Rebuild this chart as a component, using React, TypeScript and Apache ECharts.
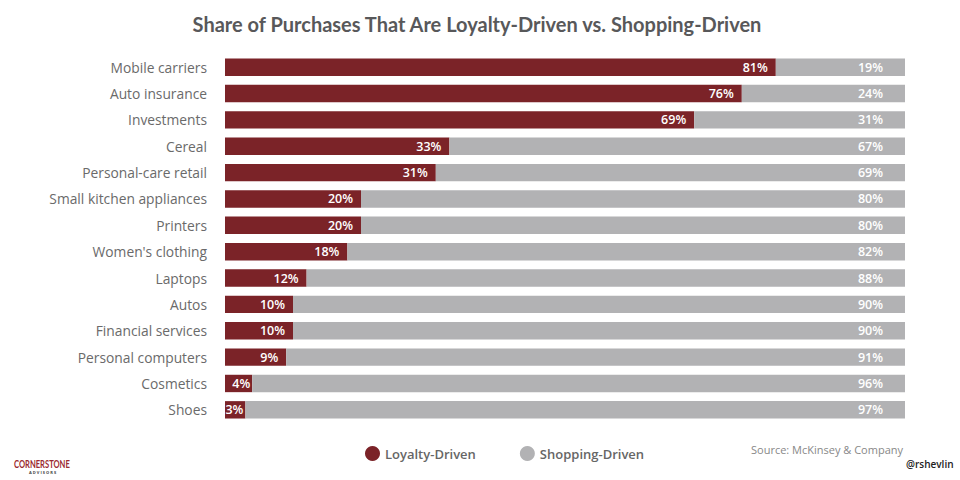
import React, { useEffect, useRef } from "react";
import * as echarts from "echarts";

const categories = [
  "Mobile carriers",
  "Auto insurance",
  "Investments",
  "Cereal",
  "Personal-care retail",
  "Small kitchen appliances",
  "Printers",
  "Women's clothing",
  "Laptops",
  "Autos",
  "Financial services",
  "Personal computers",
  "Cosmetics",
  "Shoes",
];
const loyaltyDriven = [81, 76, 69, 33, 31, 20, 20, 18, 12, 10, 10, 9, 4, 3];
const shoppingDriven = [19, 24, 31, 67, 69, 80, 80, 82, 88, 90, 90, 91, 96, 97];

const RED = "#7b2328";
const GRAY = "#b2b2b4";
const FONT = "'Open Sans', Lato, sans-serif";

export default function App() {
  const ref = useRef<HTMLDivElement>(null);
  useEffect(() => {
    if (!ref.current) return;
    const chart = echarts.init(ref.current, null, { renderer: "svg" });
    chart.setOption({
      animation: false,
      backgroundColor: "#ffffff",
      textStyle: { fontFamily: FONT },
      title: {
        text: "Share of Purchases That Are Loyalty-Driven vs. Shopping-Driven",
        left: 472,
        top: 9,
        textAlign: "center",
        textStyle: { fontFamily: "Lato, sans-serif", fontSize: 20, fontWeight: "bold", color: "#58585a" },
      },
      legend: {
        left: 360,
        top: 441,
        icon: "circle",
        itemWidth: 15,
        itemHeight: 15,
        itemGap: 44,
        textStyle: { fontFamily: FONT, fontSize: 13, color: "#666666", fontWeight: 600 },
        data: ["Loyalty-Driven", "Shopping-Driven"],
      },
      grid: { left: 225, right: 55, top: 54, bottom: 57, containLabel: false },
      xAxis: {
        type: "value",
        min: 0,
        max: 100,
        show: false,
      },
      yAxis: {
        type: "category",
        data: categories,
        inverse: true,
        axisLine: { show: false },
        axisTick: { show: false },
        splitLine: { show: false },
        axisLabel: { margin: 18, fontSize: 13.8, color: "#6a6a6a", fontFamily: FONT },
      },
      series: [
        {
          name: "Loyalty-Driven",
          type: "bar",
          stack: "total",
          data: loyaltyDriven.map((v) => ({
            value: v,
            label: v < 6 ? { distance: 2 } : undefined,
          })),
          barCategoryGap: "34%",
          itemStyle: { color: RED },
          label: {
            show: true,
            position: "insideRight",
            distance: 8,
            formatter: "{c}%",
            color: "#ffffff",
            fontSize: 12.5,
            fontWeight: 600,
            fontFamily: FONT,
          },
        },
        {
          name: "Shopping-Driven",
          type: "bar",
          stack: "total",
          data: shoppingDriven,
          itemStyle: { color: GRAY },
          label: {
            show: true,
            position: "insideRight",
            distance: 22,
            formatter: "{c}%",
            color: "#ffffff",
            fontSize: 12.5,
            fontWeight: 600,
            fontFamily: FONT,
          },
        },
      ],
      graphic: [
        {
          type: "text",
          right: 57,
          top: 444,
          style: { text: "Source: McKinsey & Company", fontSize: 11, fill: "#888888", fontFamily: FONT },
        },
        {
          type: "text",
          left: 906,
          top: 459,
          style: { text: "@rshevlin", fontSize: 10, fill: "#222222", fontFamily: FONT, fontWeight: 600 },
        },
        {
          type: "text",
          x: 14,
          y: 458,
          scaleX: 0.69,
          style: {
            text: "CORNERSTONE",
            fontSize: 11,
            fontWeight: "bold",
            fill: "#9b2a30",
            fontFamily: "Lato, sans-serif",
          },
        },
        {
          type: "text",
          x: 29,
          y: 470,
          style: { text: "A D V I S O R S", fontSize: 4, fill: "#444444", fontFamily: FONT, fontWeight: "bold" },
        },
      ],
    });
    return () => chart.dispose();
  }, []);
  return <div ref={ref} style={{ width: 960, height: 480, position: "absolute", left: 0, top: 0 }} />;
}
